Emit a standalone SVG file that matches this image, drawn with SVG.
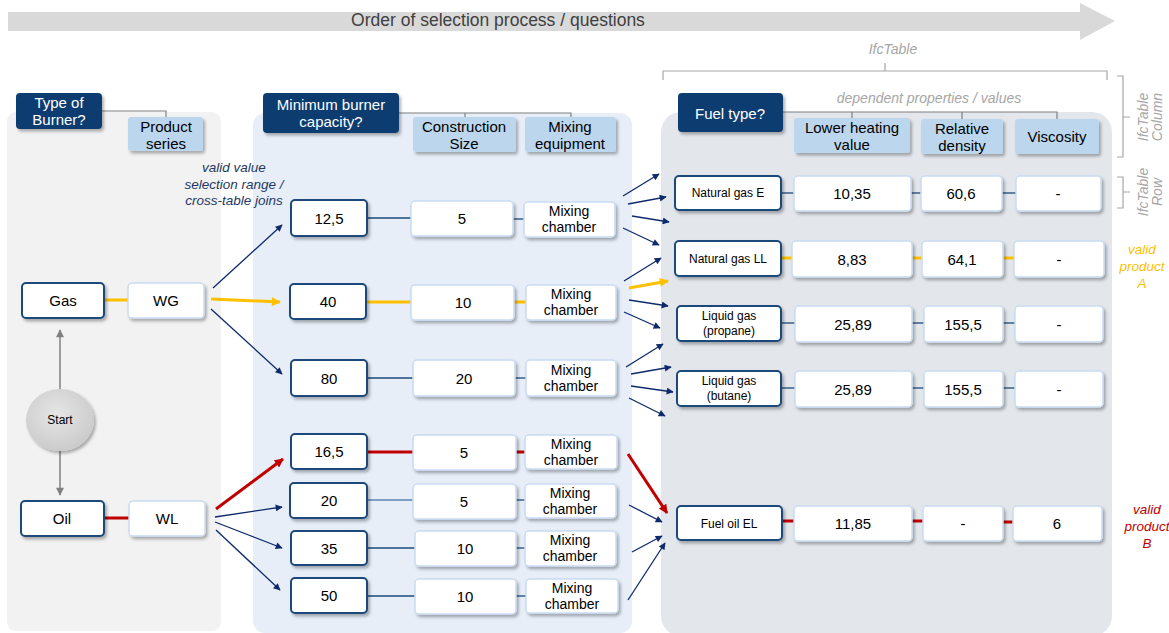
<svg xmlns="http://www.w3.org/2000/svg" width="1169" height="633" viewBox="0 0 1169 633">
<defs>
<style>
text{font-family:"Liberation Sans",Arial,sans-serif;}
.t14{font-size:15px;fill:#000;text-anchor:middle;}
.t13{font-size:14px;fill:#000;text-anchor:middle;}
.t12{font-size:12px;fill:#000;text-anchor:middle;}
.hw{font-size:15px;fill:#fff;text-anchor:middle;}
.nb{fill:#fff;stroke:#1b4a7c;stroke-width:2;}
.lb{fill:#fff;stroke:#c9dcf2;stroke-width:1.5;}
.hd{fill:#0b3c70;}
.hl{fill:#bcd6ee;}
.gr{font-size:14px;fill:#a6a6a6;font-style:italic;text-anchor:middle;}
.br{fill:none;stroke:#a6a6a6;stroke-width:1.2;}
.hc{fill:none;stroke:#7f7f7f;stroke-width:1.2;}
.cn{fill:none;stroke:#1b4a7c;stroke-width:1.3;}
.cl{fill:none;stroke:#5d86b5;stroke-width:1.3;}
.ar{fill:none;stroke:#0d2a6b;stroke-width:1.3;marker-end:url(#aN);}
.ay{fill:none;stroke:#ffc000;stroke-width:3;}
.ayA{fill:none;stroke:#ffc000;stroke-width:3;marker-end:url(#aY);}
.rd{fill:none;stroke:#c00000;stroke-width:3;}
.rdA{fill:none;stroke:#c00000;stroke-width:3;marker-end:url(#aR);}
.gy{fill:none;stroke:#808080;stroke-width:1.5;marker-end:url(#aG);}
</style>
<filter id="sh" x="-20%" y="-20%" width="140%" height="150%">
<feDropShadow dx="2" dy="2.5" stdDeviation="1.5" flood-color="#000" flood-opacity="0.3"/>
</filter>
<radialGradient id="sg" cx="45%" cy="40%" r="60%">
<stop offset="0" stop-color="#e6e6e6"/>
<stop offset="1" stop-color="#cbcbcb"/>
</radialGradient>
<marker id="aN" viewBox="0 0 10 10" refX="9" refY="5" markerWidth="9" markerHeight="7" orient="auto" markerUnits="userSpaceOnUse"><path d="M0,0 L10,5 L0,10 z" fill="#0d2a6b"/></marker>
<marker id="aY" viewBox="0 0 10 10" refX="9" refY="5" markerWidth="11" markerHeight="9" orient="auto" markerUnits="userSpaceOnUse"><path d="M0,0 L10,5 L0,10 z" fill="#ffc000"/></marker>
<marker id="aR" viewBox="0 0 10 10" refX="9" refY="5" markerWidth="11" markerHeight="9" orient="auto" markerUnits="userSpaceOnUse"><path d="M0,0 L10,5 L0,10 z" fill="#c00000"/></marker>
<marker id="aG" viewBox="0 0 10 10" refX="9" refY="5" markerWidth="9" markerHeight="8" orient="auto" markerUnits="userSpaceOnUse"><path d="M0,0 L10,5 L0,10 z" fill="#808080"/></marker>
</defs>

<!-- top process arrow -->
<g id="process-arrow">
<polygon points="8,12 1080,12 1080,3 1115,21 1080,40 1080,31 8,31" fill="#d9d9d9"/>
<text x="498" y="26" style="font-size:17.5px;fill:#404040;text-anchor:middle">Order of selection process / questions</text>
</g>

<!-- panels -->
<g id="panels">
<rect x="7" y="112" width="214" height="519" rx="9" fill="#f2f2f2"/>
<rect x="253" y="113" width="379" height="520" rx="12" fill="#e7eef8"/>
<rect x="661" y="112" width="451" height="524" rx="20" fill="#e3e7ec"/>
</g>

<!-- annotations -->
<g id="ifctable">
<text class="gr" x="893" y="54">IfcTable</text>
<path class="br" d="M663,80 V71 H1107 V80 M885,71 V63"/>
<text class="gr" x="929" y="103">dependent properties / values</text>
<path class="br" d="M1117,76 H1123 V157 H1117 M1123,117 H1130"/>
<text class="gr" transform="translate(1150,117) rotate(-90)"><tspan x="0" y="-2">IfcTable</tspan><tspan x="0" y="12">Column</tspan></text>
<path class="br" d="M1117,177 H1123 V208 H1117 M1123,192 H1130"/>
<text class="gr" transform="translate(1150,192) rotate(-90)"><tspan x="0" y="-2">IfcTable</tspan><tspan x="0" y="12">Row</tspan></text>
</g>
<g id="label-valid-range">
<text style="font-size:13.5px;fill:#1f3864;font-style:italic;text-anchor:middle"><tspan x="234" y="172">valid value</tspan><tspan x="234" y="189">selection range /</tspan><tspan x="234" y="205">cross-table joins</tspan></text>
</g>
<g id="label-product-a">
<text style="font-size:13.5px;fill:#ffc000;font-style:italic;text-anchor:middle"><tspan x="1142" y="254">valid</tspan><tspan x="1142" y="271">product</tspan><tspan x="1142" y="288">A</tspan></text>
</g>
<g id="label-product-b">
<text style="font-size:13.5px;fill:#c00000;font-style:italic;text-anchor:middle"><tspan x="1147" y="514">valid</tspan><tspan x="1147" y="531">product</tspan><tspan x="1147" y="548">B</tspan></text>
</g>

<!-- header connectors -->
<g id="header-lines">
<path class="hc" d="M102,111 H166 V117"/>
<path class="hc" d="M399,113 H571 V118 M465,113 V118"/>
<path class="hc" d="M783,112 H1057 V119 M852,112 V118 M962,112 V119"/>
</g>

<!-- headers -->
<g id="h-type"><rect class="hd" x="16" y="93" width="86" height="36" rx="4" filter="url(#sh)"/><text class="hw"><tspan x="59" y="108">Type of</tspan><tspan x="59" y="125">Burner?</tspan></text></g>
<g id="h-series"><rect class="hl" x="128" y="117" width="75" height="34" rx="3" filter="url(#sh)"/><text class="t14"><tspan x="166" y="132">Product</tspan><tspan x="166" y="149">series</tspan></text></g>
<g id="h-capacity"><rect class="hd" x="263" y="93" width="136" height="40" rx="4" filter="url(#sh)"/><text class="hw"><tspan x="331" y="110">Minimum burner</tspan><tspan x="331" y="127">capacity?</tspan></text></g>
<g id="h-size"><rect class="hl" x="413" y="117" width="103" height="35" rx="3" filter="url(#sh)"/><text class="t14"><tspan x="464" y="132">Construction</tspan><tspan x="464" y="149">Size</tspan></text></g>
<g id="h-mixing"><rect class="hl" x="525" y="117" width="91" height="35" rx="3" filter="url(#sh)"/><text class="t14"><tspan x="570" y="132">Mixing</tspan><tspan x="570" y="149">equipment</tspan></text></g>
<g id="h-fuel"><rect class="hd" x="678" y="93" width="105" height="39" rx="4" filter="url(#sh)"/><text class="hw" x="730" y="119">Fuel type?</text></g>
<g id="h-lhv"><rect class="hl" x="794" y="118" width="116" height="35" rx="3" filter="url(#sh)"/><text class="t14"><tspan x="852" y="133">Lower heating</tspan><tspan x="852" y="150">value</tspan></text></g>
<g id="h-density"><rect class="hl" x="921" y="119" width="82" height="35" rx="3" filter="url(#sh)"/><text class="t14"><tspan x="962" y="134">Relative</tspan><tspan x="962" y="151">density</tspan></text></g>
<g id="h-viscosity"><rect class="hl" x="1015" y="119" width="84" height="35" rx="3" filter="url(#sh)"/><text class="t14" x="1057" y="142">Viscosity</text></g>

<!-- connectors -->
<g id="connectors">
<line class="gy" x1="60" y1="389" x2="60" y2="330"/>
<line class="gy" x1="60" y1="451" x2="60" y2="495"/>
<line class="ay" x1="104" y1="300" x2="128" y2="300"/>
<line class="rd" x1="104" y1="518" x2="129" y2="518"/>
<line class="ar" x1="213" y1="288" x2="282" y2="225"/>
<line class="ayA" x1="211" y1="299" x2="280" y2="302"/>
<line class="ar" x1="211" y1="309" x2="282" y2="374"/>
<line class="rdA" x1="216" y1="509" x2="283" y2="459"/>
<line class="ar" x1="215" y1="517" x2="282" y2="507"/>
<line class="ar" x1="215" y1="522" x2="282" y2="548"/>
<line class="ar" x1="216" y1="530" x2="280" y2="590"/>
<!-- middle rows -->
<line class="cn" x1="367" y1="218" x2="411" y2="218"/>
<line class="cn" x1="513" y1="219" x2="524" y2="219"/>
<line class="ay" x1="366" y1="302" x2="411" y2="302"/>
<line class="ay" x1="514" y1="302" x2="526" y2="302"/>
<line class="cn" x1="367" y1="378" x2="413" y2="378"/>
<line class="cn" x1="515" y1="378" x2="526" y2="378"/>
<line class="rd" x1="367" y1="452" x2="413" y2="452"/>
<line class="rd" x1="516" y1="452" x2="525" y2="452"/>
<line class="cl" x1="367" y1="500" x2="413" y2="500"/>
<line class="cn" x1="516" y1="500" x2="525" y2="500"/>
<line class="cn" x1="367" y1="548" x2="415" y2="548"/>
<line class="cn" x1="516" y1="548" x2="525" y2="548"/>
<line class="cn" x1="367" y1="596" x2="415" y2="596"/>
<line class="cn" x1="516" y1="596" x2="526" y2="596"/>
<!-- mixing chamber to fuel -->
<line class="ar" x1="623" y1="196" x2="659" y2="174"/>
<line class="ar" x1="628" y1="204" x2="666" y2="197"/>
<line class="ar" x1="632" y1="216" x2="669" y2="222"/>
<line class="ar" x1="623" y1="228" x2="659" y2="245"/>
<line class="ar" x1="624" y1="281" x2="661" y2="258"/>
<line class="ayA" x1="629" y1="288" x2="668" y2="281"/>
<line class="ar" x1="629" y1="300" x2="668" y2="306"/>
<line class="ar" x1="624" y1="312" x2="660" y2="328"/>
<line class="ar" x1="626" y1="367" x2="663" y2="344"/>
<line class="ar" x1="631" y1="374" x2="671" y2="367"/>
<line class="ar" x1="631" y1="386" x2="673" y2="392"/>
<line class="ar" x1="629" y1="398" x2="665" y2="416"/>
<line class="rdA" x1="628" y1="454" x2="667" y2="513"/>
<line class="ar" x1="629" y1="505" x2="662" y2="522"/>
<line class="ar" x1="632" y1="552" x2="662" y2="536"/>
<line class="ar" x1="628" y1="600" x2="665" y2="543"/>
<!-- fuel rows -->
<line class="cn" x1="781" y1="193" x2="794" y2="193"/>
<line class="cn" x1="911" y1="193" x2="921" y2="193"/>
<line class="cn" x1="1002" y1="193" x2="1016" y2="193"/>
<line class="ay" x1="781" y1="258" x2="792" y2="258"/>
<line class="ay" x1="911" y1="258" x2="922" y2="258"/>
<line class="ay" x1="1003" y1="258" x2="1014" y2="258"/>
<line class="cn" x1="781" y1="323" x2="795" y2="323"/>
<line class="cn" x1="912" y1="323" x2="924" y2="323"/>
<line class="cn" x1="1003" y1="323" x2="1015" y2="323"/>
<line class="cn" x1="781" y1="388" x2="795" y2="388"/>
<line class="cn" x1="912" y1="388" x2="924" y2="388"/>
<line class="cn" x1="1003" y1="388" x2="1015" y2="388"/>
<line class="rd" x1="782" y1="521" x2="794" y2="521"/>
<line class="rd" x1="912" y1="521" x2="923" y2="521"/>
<line class="rd" x1="1003" y1="522" x2="1013" y2="522"/>
</g>

<!-- left column -->
<g id="n-start"><ellipse cx="60" cy="420" rx="34" ry="31" fill="url(#sg)" filter="url(#sh)"/><text class="t12" x="60" y="424">Start</text></g>
<g id="n-gas"><rect class="nb" x="22" y="283" width="82" height="35" rx="4" filter="url(#sh)"/><text class="t14" x="63" y="306">Gas</text></g>
<g id="n-wg"><rect class="lb" x="128" y="283" width="76" height="35" rx="4" filter="url(#sh)"/><text class="t14" x="166" y="306">WG</text></g>
<g id="n-oil"><rect class="nb" x="21" y="501" width="83" height="35" rx="4" filter="url(#sh)"/><text class="t14" x="62" y="524">Oil</text></g>
<g id="n-wl"><rect class="lb" x="129" y="501" width="76" height="35" rx="4" filter="url(#sh)"/><text class="t14" x="167" y="524">WL</text></g>

<!-- middle column -->
<g id="n-c125"><rect class="nb" x="291" y="200" width="76" height="36" rx="4" filter="url(#sh)"/><text class="t14" x="329" y="224">12,5</text></g>
<g id="n-s5a"><rect class="lb" x="411" y="201" width="102" height="35" rx="4" filter="url(#sh)"/><text class="t14" x="462" y="224">5</text></g>
<g id="n-m1"><rect class="lb" x="524" y="202" width="91" height="35" rx="4" filter="url(#sh)"/><text class="t13"><tspan x="569" y="216">Mixing</tspan><tspan x="569" y="232">chamber</tspan></text></g>

<g id="n-c40"><rect class="nb" x="290" y="284" width="76" height="35" rx="4" filter="url(#sh)"/><text class="t14" x="328" y="307">40</text></g>
<g id="n-s10a"><rect class="lb" x="411" y="285" width="103" height="35" rx="4" filter="url(#sh)"/><text class="t14" x="463" y="308">10</text></g>
<g id="n-m2"><rect class="lb" x="526" y="285" width="90" height="35" rx="4" filter="url(#sh)"/><text class="t13"><tspan x="571" y="299">Mixing</tspan><tspan x="571" y="315">chamber</tspan></text></g>

<g id="n-c80"><rect class="nb" x="291" y="360" width="76" height="36" rx="4" filter="url(#sh)"/><text class="t14" x="329" y="384">80</text></g>
<g id="n-s20"><rect class="lb" x="413" y="360" width="102" height="36" rx="4" filter="url(#sh)"/><text class="t14" x="464" y="384">20</text></g>
<g id="n-m3"><rect class="lb" x="526" y="360" width="90" height="36" rx="4" filter="url(#sh)"/><text class="t13"><tspan x="571" y="375">Mixing</tspan><tspan x="571" y="391">chamber</tspan></text></g>

<g id="n-c165"><rect class="nb" x="291" y="434" width="76" height="35" rx="4" filter="url(#sh)"/><text class="t14" x="329" y="457">16,5</text></g>
<g id="n-s5b"><rect class="lb" x="413" y="435" width="103" height="35" rx="4" filter="url(#sh)"/><text class="t14" x="464" y="458">5</text></g>
<g id="n-m4"><rect class="lb" x="525" y="435" width="92" height="34" rx="4" filter="url(#sh)"/><text class="t13"><tspan x="571" y="449">Mixing</tspan><tspan x="571" y="465">chamber</tspan></text></g>

<g id="n-c20"><rect class="nb" x="290" y="483" width="77" height="35" rx="4" filter="url(#sh)"/><text class="t14" x="329" y="506">20</text></g>
<g id="n-s5c"><rect class="lb" x="413" y="484" width="103" height="35" rx="4" filter="url(#sh)"/><text class="t14" x="464" y="507">5</text></g>
<g id="n-m5"><rect class="lb" x="525" y="484" width="91" height="34" rx="4" filter="url(#sh)"/><text class="t13"><tspan x="570" y="498">Mixing</tspan><tspan x="570" y="514">chamber</tspan></text></g>

<g id="n-c35"><rect class="nb" x="291" y="531" width="76" height="34" rx="4" filter="url(#sh)"/><text class="t14" x="329" y="554">35</text></g>
<g id="n-s10b"><rect class="lb" x="415" y="531" width="101" height="35" rx="4" filter="url(#sh)"/><text class="t14" x="465" y="554">10</text></g>
<g id="n-m6"><rect class="lb" x="525" y="531" width="91" height="35" rx="4" filter="url(#sh)"/><text class="t13"><tspan x="570" y="545">Mixing</tspan><tspan x="570" y="561">chamber</tspan></text></g>

<g id="n-c50"><rect class="nb" x="291" y="578" width="76" height="35" rx="4" filter="url(#sh)"/><text class="t14" x="329" y="601">50</text></g>
<g id="n-s10c"><rect class="lb" x="415" y="579" width="101" height="35" rx="4" filter="url(#sh)"/><text class="t14" x="465" y="602">10</text></g>
<g id="n-m7"><rect class="lb" x="526" y="579" width="92" height="34" rx="4" filter="url(#sh)"/><text class="t13"><tspan x="572" y="593">Mixing</tspan><tspan x="572" y="609">chamber</tspan></text></g>

<!-- right column -->
<g id="n-nge"><rect class="nb" x="675" y="176" width="106" height="34" rx="4" filter="url(#sh)"/><text class="t12" x="728" y="197">Natural gas E</text></g>
<g id="n-nge-lhv"><rect class="lb" x="794" y="176" width="117" height="35" rx="4" filter="url(#sh)"/><text class="t14" x="852" y="199">10,35</text></g>
<g id="n-nge-rd"><rect class="lb" x="921" y="176" width="81" height="35" rx="4" filter="url(#sh)"/><text class="t14" x="961" y="199">60,6</text></g>
<g id="n-nge-v"><rect class="lb" x="1016" y="176" width="85" height="35" rx="4" filter="url(#sh)"/><text class="t14" x="1058" y="199">-</text></g>

<g id="n-ngll"><rect class="nb" x="675" y="241" width="106" height="35" rx="4" filter="url(#sh)"/><text class="t12" x="728" y="263">Natural gas LL</text></g>
<g id="n-ngll-lhv"><rect class="lb" x="792" y="241" width="120" height="36" rx="4" filter="url(#sh)"/><text class="t14" x="852" y="265">8,83</text></g>
<g id="n-ngll-rd"><rect class="lb" x="922" y="241" width="81" height="36" rx="4" filter="url(#sh)"/><text class="t14" x="962" y="265">64,1</text></g>
<g id="n-ngll-v"><rect class="lb" x="1014" y="241" width="90" height="36" rx="4" filter="url(#sh)"/><text class="t14" x="1059" y="265">-</text></g>

<g id="n-lgp"><rect class="nb" x="677" y="306" width="104" height="35" rx="4" filter="url(#sh)"/><text class="t12"><tspan x="729" y="320">Liquid gas</tspan><tspan x="729" y="335">(propane)</tspan></text></g>
<g id="n-lgp-lhv"><rect class="lb" x="795" y="306" width="117" height="36" rx="4" filter="url(#sh)"/><text class="t14" x="853" y="330">25,89</text></g>
<g id="n-lgp-rd"><rect class="lb" x="924" y="306" width="79" height="36" rx="4" filter="url(#sh)"/><text class="t14" x="963" y="330">155,5</text></g>
<g id="n-lgp-v"><rect class="lb" x="1015" y="306" width="88" height="36" rx="4" filter="url(#sh)"/><text class="t14" x="1059" y="330">-</text></g>

<g id="n-lgb"><rect class="nb" x="677" y="371" width="104" height="35" rx="4" filter="url(#sh)"/><text class="t12"><tspan x="729" y="385">Liquid gas</tspan><tspan x="729" y="400">(butane)</tspan></text></g>
<g id="n-lgb-lhv"><rect class="lb" x="795" y="371" width="117" height="36" rx="4" filter="url(#sh)"/><text class="t14" x="853" y="395">25,89</text></g>
<g id="n-lgb-rd"><rect class="lb" x="924" y="371" width="79" height="36" rx="4" filter="url(#sh)"/><text class="t14" x="963" y="395">155,5</text></g>
<g id="n-lgb-v"><rect class="lb" x="1015" y="371" width="88" height="36" rx="4" filter="url(#sh)"/><text class="t14" x="1059" y="395">-</text></g>

<g id="n-foel"><rect class="nb" x="677" y="506" width="105" height="34" rx="4" filter="url(#sh)"/><text class="t12" x="729" y="528">Fuel oil EL</text></g>
<g id="n-foel-lhv"><rect class="lb" x="794" y="506" width="118" height="35" rx="4" filter="url(#sh)"/><text class="t14" x="853" y="529">11,85</text></g>
<g id="n-foel-rd"><rect class="lb" x="923" y="506" width="80" height="35" rx="4" filter="url(#sh)"/><text class="t14" x="963" y="529">-</text></g>
<g id="n-foel-v"><rect class="lb" x="1013" y="506" width="89" height="35" rx="4" filter="url(#sh)"/><text class="t14" x="1057" y="529">6</text></g>
</svg>
